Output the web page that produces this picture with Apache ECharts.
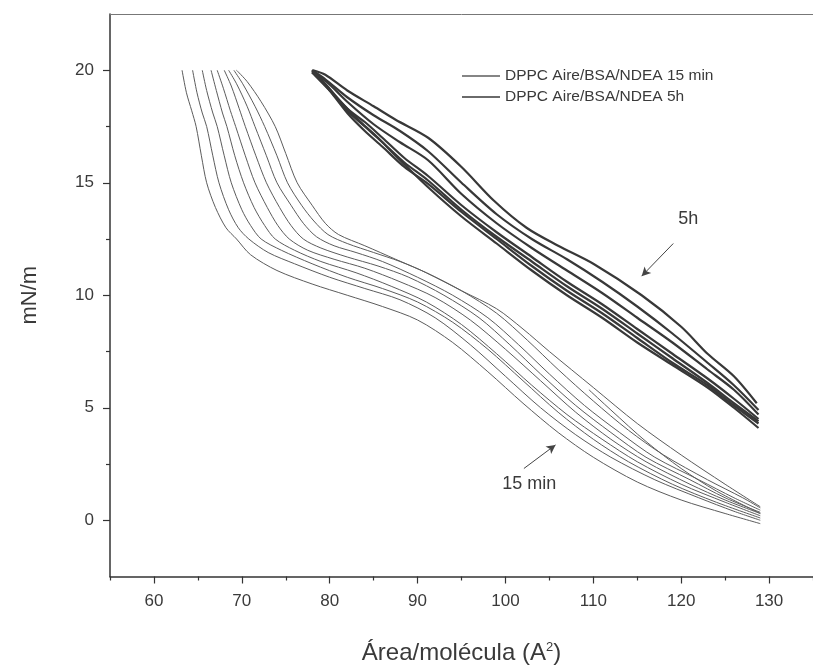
<!DOCTYPE html>
<html><head><meta charset="utf-8">
<script src="https://cdn.jsdelivr.net/npm/echarts@6/dist/echarts.min.js"></script>
<style>html,body{margin:0;padding:0;background:#fff}#c{width:813px;height:670px}</style>
</head><body><div id="c"></div>
<script>
// Tick values
const xLabelTicks = [60, 70, 80, 90, 100, 110, 120, 130];
const xMinorTicks = [55, 65, 75, 85, 95, 105, 115, 125, 135];
const yLabelTicks = [0, 5, 10, 15, 20];
const yMinorTicks = [2.5, 7.5, 12.5, 17.5];

const name15 = 'DPPC Aire/BSA/NDEA 15 min';
const name5h = 'DPPC Aire/BSA/NDEA 5h';

// 15 min isotherm cycles [area, pressure]
const m15a = [[63.2,20],[63.7,19.0],[64.3,18.2],[64.8,17.5],[65.4,16.2],[66.0,15.0],[67.0,13.9],[68.2,13.0],[69.4,12.5],[71,11.8],[74,11.1],[78,10.5],[82,10.0],[86,9.5],[90,8.9],[94,7.9],[98,6.6],[102,5.2],[106,3.9],[110,2.8],[115,1.7],[120,0.9],[125,0.3],[129,-0.15]];
const m15b = [[64.4,20],[64.9,19.0],[65.5,18.1],[66.0,17.5],[66.7,16.2],[67.4,15.0],[68.5,13.8],[69.6,13.0],[70.8,12.5],[73,11.9],[76,11.4],[80,10.8],[84,10.3],[88,9.8],[92,9.0],[96,7.8],[100,6.4],[104,5.0],[108,3.8],[112,2.8],[117,1.8],[122,1.0],[126,0.4],[129,0.0]];
const m15c = [[65.5,20],[66.0,19.1],[66.7,18.1],[67.2,17.5],[68.0,16.2],[68.8,15.0],[70.0,13.8],[71.0,13.1],[72.2,12.5],[74.5,12.0],[78,11.4],[82,10.8],[86,10.3],[90,9.7],[94,8.8],[98,7.6],[102,6.2],[106,4.8],[110,3.6],[114,2.6],[119,1.6],[124,0.8],[129,0.1]];
const m15d = [[66.5,20],[67.1,19.1],[67.8,18.1],[68.3,17.5],[69.2,16.2],[70.2,15.0],[71.4,13.9],[72.6,13.1],[73.8,12.5],[76,12.0],[79,11.5],[83,11.0],[87,10.4],[91,9.7],[95,8.7],[99,7.4],[103,6.0],[107,4.7],[111,3.6],[115,2.6],[120,1.6],[125,0.8],[129,0.2]];
const m15e = [[67.2,20],[67.9,19.2],[68.7,18.2],[69.3,17.5],[70.4,16.2],[71.5,15.0],[72.9,13.9],[74.1,13.1],[75.4,12.5],[77.5,12.0],[80.5,11.6],[84,11.2],[88,10.6],[92,9.9],[96,8.9],[100,7.6],[104,6.2],[108,4.8],[112,3.6],[116,2.6],[121,1.6],[125,0.9],[129,0.3]];
const m15f = [[68.0,20],[68.8,19.3],[69.7,18.3],[70.4,17.5],[71.6,16.2],[72.8,15.0],[74.3,13.9],[75.6,13.1],[77.0,12.5],[79,12.1],[82,11.7],[85.5,11.3],[89,10.8],[93,10.0],[97,9.0],[100.5,7.8],[104,6.5],[108,5.1],[112,3.9],[116,2.8],[121,1.8],[125,1.0],[129,0.35]];
const m15g = [[68.5,20],[69.4,19.4],[70.6,18.4],[71.5,17.5],[72.8,16.2],[74.0,15.0],[75.6,14.0],[77.0,13.2],[78.5,12.6],[80.5,12.2],[83,11.9],[86,11.5],[90,10.8],[94,10.0],[98,9.0],[101.5,7.8],[105,6.5],[109,5.1],[113,3.9],[117,2.8],[122,1.8],[126,1.0],[129,0.45]];
const m15h = [[69.1,20],[70.1,19.4],[71.5,18.4],[72.6,17.5],[74.0,16.2],[75.2,15.0],[76.8,14.0],[78.2,13.3],[79.8,12.7],[82,12.3],[85,11.9],[88,11.5],[91,11.0],[95,10.2],[99,9.2],[102.5,8.0],[106,6.7],[110,5.3],[114,4.0],[118,2.9],[123,1.8],[127,1.0],[129,0.55]];
const m15i = [[69.4,20],[70.6,19.5],[72.2,18.6],[73.8,17.5],[75.0,16.3],[76.3,15.0],[78.0,14.0],[79.5,13.2],[81.0,12.7],[84,12.2],[87.5,11.6],[91,11.0],[95,10.2],[99,9.4],[102,8.5],[105,7.5],[110,5.9],[115,4.3],[120,2.9],[125,1.6],[129,0.6]];
const m15j = [[109.5,5.8],[112,4.9],[116,3.5],[120,2.3],[124,1.3],[129,0.3]];

// 5 h isotherm cycles [area, pressure]
const h5a = [[78.1,20],[79.5,19.8],[82,19.1],[85,18.4],[87.5,17.8],[91.2,17.0],[95,15.7],[98.7,14.2],[102.4,13.0],[106,12.2],[110,11.4],[115.5,10.0],[120,8.6],[123,7.4],[126,6.4],[128.6,5.2]];
const h5b = [[78.0,20],[79.5,19.6],[82,18.8],[85,18.0],[88,17.3],[91.2,16.4],[95,15.0],[99,13.6],[103,12.5],[107,11.6],[111,10.6],[115,9.5],[119,8.3],[123,7.0],[126,6.0],[128.8,4.9]];
const h5c = [[78.0,19.9],[79.6,19.5],[82,18.6],[85,17.6],[88,16.8],[91.2,16.0],[95,14.5],[99,13.2],[103,12.1],[107,11.1],[111,10.1],[115,9.0],[119,7.9],[123,6.7],[126,5.8],[128.8,4.7]];
const h5d = [[78.0,20],[79.5,19.4],[82,18.3],[84,17.7],[86,17.0],[88.5,16.1],[91.2,15.3],[95,14.0],[99,12.8],[103,11.7],[107,10.6],[111,9.6],[115,8.5],[119,7.4],[123,6.3],[126,5.4],[128.8,4.5]];
const h5e = [[78.0,19.95],[79.6,19.3],[82,18.2],[84,17.5],[86,16.8],[88.5,15.9],[91.2,15.1],[95,13.8],[99,12.6],[103,11.5],[107,10.4],[111,9.4],[115,8.3],[119,7.2],[123,6.1],[126,5.2],[128.8,4.4]];
const h5f = [[78.0,20],[79.8,19.2],[82,18.1],[84,17.3],[86,16.6],[88.5,15.7],[91.2,14.95],[95,13.7],[99,12.5],[103,11.3],[107,10.2],[111,9.2],[115,8.1],[119,7.0],[123,6.0],[126,5.1],[128.8,4.3]];
const h5g = [[78.0,19.9],[80,19.1],[82,18.3],[83.8,17.6],[85.5,17.0],[87.5,16.2],[91.2,14.8],[95,13.5],[99,12.3],[103,11.1],[107,10.0],[111,9.0],[115,7.9],[119,6.9],[123,5.9],[126,5.0],[128.8,4.1]];

const curves15 = [m15a, m15b, m15c, m15d, m15e, m15f, m15g, m15h, m15i, m15j];
const curves5h = [h5a, h5b, h5c, h5d, h5e, h5f, h5g];

// annotations [area, pressure]
const arrow5h = [[119.1, 12.3], [115.5, 10.85]];
const label5h = [120.8, 13.4];
const arrow15 = [[102.1, 2.3], [105.7, 3.35]];
const label15 = [102.7, 1.6];

const col15 = '#5c5c5c';
const col5h = '#383838';
const txt = '#3a3a3a';
const FONT = 'Liberation Sans, Arial, sans-serif';

const series = [];
curves15.forEach(c => series.push({
  type: 'line', name: name15, data: c, showSymbol: false, symbol: 'none', smooth: 0.3,
  lineStyle: { color: col15, width: 1 }, itemStyle: { color: col15 }, z: 2, silent: true
}));
curves5h.forEach(c => series.push({
  type: 'line', name: name5h, data: c, showSymbol: false, symbol: 'none', smooth: 0.3,
  lineStyle: { color: col5h, width: 2.2 }, itemStyle: { color: col5h }, z: 3, silent: true
}));
series.push({
  type: 'line', name: 'annot', data: [], silent: true,
  markLine: {
    silent: true, symbol: ['none', 'arrow'], symbolSize: [7, 9],
    lineStyle: { color: '#444', width: 1, type: 'solid' }, label: { show: false },
    data: [
      [{ coord: arrow5h[0] }, { coord: arrow5h[1] }],
      [{ coord: arrow15[0] }, { coord: arrow15[1] }]
    ]
  },
  markPoint: {
    symbol: 'circle', symbolSize: 0, silent: true,
    label: { show: true, color: txt, fontSize: 18, fontFamily: FONT, formatter: p => p.name },
    data: [
      { name: '5h', coord: label5h },
      { name: '15 min', coord: label15 }
    ]
  }
});

const chart = echarts.init(document.getElementById('c'), null, { renderer: 'canvas' });
chart.setOption({
  animation: false,
  backgroundColor: '#fff',
  grid: { left: 110, top: 14, width: 714, height: 564 },
  legend: {
    orient: 'vertical', left: 457, top: 63, itemGap: 5, itemWidth: 38, itemHeight: 1.5,
    icon: 'rect', selectedMode: false,
    textStyle: { color: txt, fontSize: 15.5, fontFamily: FONT },
    data: [name15, name5h]
  },
  xAxis: [
    {
      type: 'value', min: 55, max: 135, position: 'bottom',
      name: 'Área/molécula (A{s|2})', nameLocation: 'middle', nameGap: 64,
      nameTextStyle: { color: txt, fontSize: 24, fontFamily: FONT, rich: { s: { fontSize: 13, verticalAlign: 'top', padding: [0, 0, 12, 0], color: txt, fontFamily: FONT } } },
      axisLine: { show: true, onZero: false, lineStyle: { color: '#333', width: 1.5 } },
      axisTick: { show: true, length: 7, customValues: xLabelTicks, lineStyle: { color: '#333', width: 1.2 } },
      axisLabel: { show: true, customValues: xLabelTicks, color: txt, fontSize: 17, fontFamily: FONT, margin: 16 },
      splitLine: { show: false }
    },
    {
      type: 'value', min: 55, max: 135, position: 'bottom',
      axisLine: { show: false, onZero: false },
      axisTick: { show: true, length: 4, customValues: xMinorTicks, lineStyle: { color: '#333', width: 1.2 } },
      axisLabel: { show: false }, splitLine: { show: false }
    },
    {
      type: 'value', min: 55, max: 135, position: 'top',
      axisLine: { show: true, onZero: false, lineStyle: { color: '#777', width: 1 } },
      axisTick: { show: false }, axisLabel: { show: false }, splitLine: { show: false }
    }
  ],
  yAxis: [
    {
      type: 'value', min: -2.5, max: 22.5, position: 'left',
      name: 'mN/m', nameLocation: 'middle', nameGap: 69,
      nameTextStyle: { color: txt, fontSize: 22, fontFamily: FONT },
      axisLine: { show: true, onZero: false, lineStyle: { color: '#333', width: 1.5 } },
      axisTick: { show: true, length: 7, customValues: yLabelTicks, lineStyle: { color: '#333', width: 1.2 } },
      axisLabel: { show: true, customValues: yLabelTicks, color: txt, fontSize: 17, fontFamily: FONT, margin: 16 },
      splitLine: { show: false }
    },
    {
      type: 'value', min: -2.5, max: 22.5, position: 'left',
      axisLine: { show: false, onZero: false },
      axisTick: { show: true, length: 4, customValues: yMinorTicks, lineStyle: { color: '#333', width: 1.2 } },
      axisLabel: { show: false }, splitLine: { show: false }
    }
  ],
  series: series
});
</script></body></html>
